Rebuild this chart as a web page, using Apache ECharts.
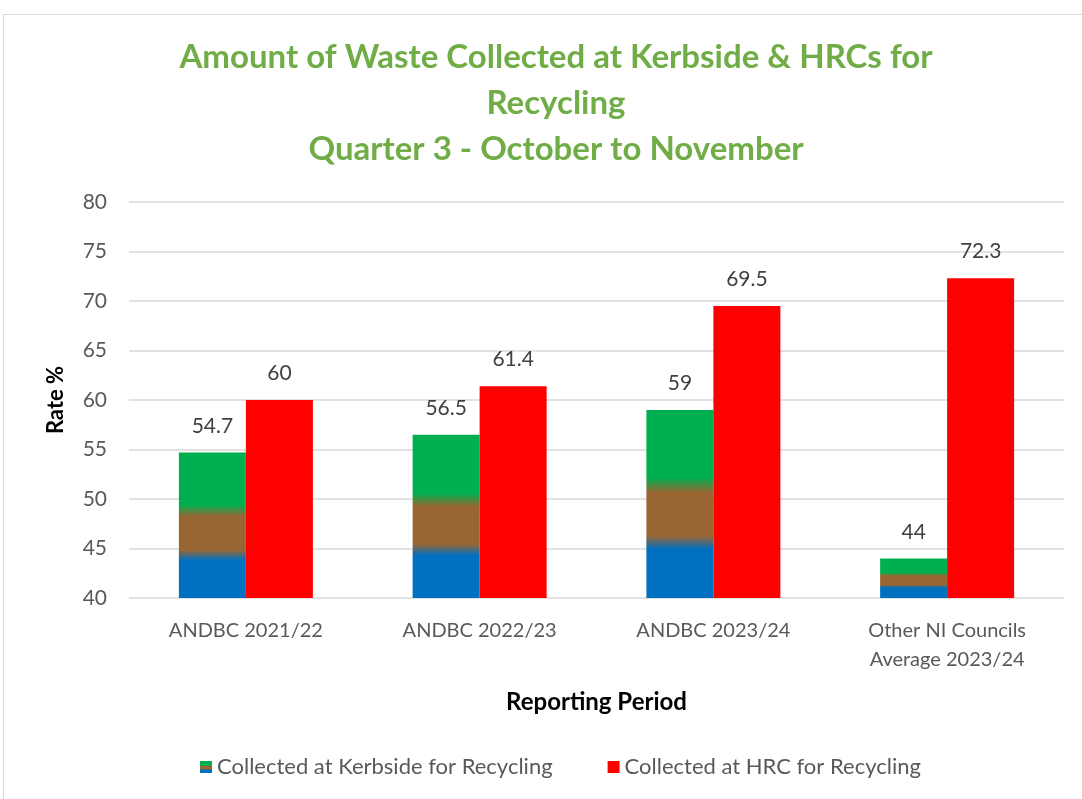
<!DOCTYPE html>
<html>
<head>
<meta charset="utf-8">
<script src="https://cdn.jsdelivr.net/npm/echarts@6/dist/echarts.min.js"></script>
<style>
  body { margin: 0; background: #fff; }
  #frame { position: absolute; left: 3px; top: 14px; width: 1090px; height: 800px; border: 1px solid #d9d9d9; }
  #chart { position: absolute; left: 0; top: 0; width: 1082px; height: 799px; }
</style>
</head>
<body>
<div id="frame"></div>
<div id="chart"></div>
<script>
var categories = ["ANDBC 2021/22", "ANDBC 2022/23", "ANDBC 2023/24", "Other NI Councils\nAverage 2023/24"];
var kerbside = [54.7, 56.5, 59, 44];
var hrc = [60, 61.4, 69.5, 72.3];

var font = "Lato, 'Open Sans', sans-serif";

// kerbside bars are shaded green -> brown -> blue from top to bottom
var kerbColor = new echarts.graphic.LinearGradient(0, 0, 0, 1, [
  { offset: 0, color: "#00B050" },
  { offset: 0.36, color: "#00B050" },
  { offset: 0.44, color: "#996633" },
  { offset: 0.67, color: "#996633" },
  { offset: 0.74, color: "#0070C0" },
  { offset: 1, color: "#0070C0" }
]);

var chart = echarts.init(document.getElementById("chart"));
chart.setOption({
  animation: false,
  textStyle: { fontFamily: font },
  title: {
    text: "Amount of Waste Collected at Kerbside & HRCs for\nRecycling\nQuarter 3 - October to November",
    left: 551,
    top: 29,
    textAlign: "center",
    textStyle: { color: "#70AD47", fontSize: 33, fontWeight: "bold", lineHeight: 46, fontFamily: font }
  },
  grid: { left: 129, right: 18, top: 202, bottom: 201 },
  legend: {
    bottom: 16,
    left: 195,
    itemWidth: 12,
    itemHeight: 12,
    itemGap: 55,
    icon: "rect",
    textStyle: { color: "#595959", fontSize: 22, fontFamily: font },
    data: ["Collected at Kerbside for Recycling", "Collected at HRC for Recycling"]
  },
  xAxis: {
    type: "category",
    data: categories,
    name: "Reporting Period",
    nameLocation: "middle",
    nameGap: 92,
    nameTextStyle: { color: "#000", fontSize: 24, fontWeight: "bold", fontFamily: font },
    axisLine: { show: false },
    axisTick: { show: false },
    axisLabel: { color: "#595959", fontSize: 20, margin: 18, lineHeight: 29, fontFamily: font }
  },
  yAxis: {
    type: "value",
    min: 40,
    max: 80,
    interval: 5,
    name: "Rate %",
    nameLocation: "middle",
    nameGap: 62,
    nameTextStyle: { color: "#000", fontSize: 22, fontWeight: "bold", fontFamily: font },
    axisLabel: { color: "#595959", fontSize: 21, margin: 22, fontFamily: font },
    splitLine: { lineStyle: { color: "#d9d9d9", width: 1.5 } }
  },
  series: [
    {
      name: "Collected at Kerbside for Recycling",
      type: "bar",
      data: kerbside,
      barWidth: 67,
      barGap: "0%",
      itemStyle: { color: kerbColor },
      label: { show: true, position: "top", distance: 16, color: "#404040", fontSize: 21, fontFamily: font }
    },
    {
      name: "Collected at HRC for Recycling",
      type: "bar",
      data: hrc,
      barWidth: 67,
      barGap: "0%",
      itemStyle: { color: "#FF0000" },
      label: { show: true, position: "top", distance: 16, color: "#404040", fontSize: 21, fontFamily: font }
    }
  ]
});
</script>
</body>
</html>
